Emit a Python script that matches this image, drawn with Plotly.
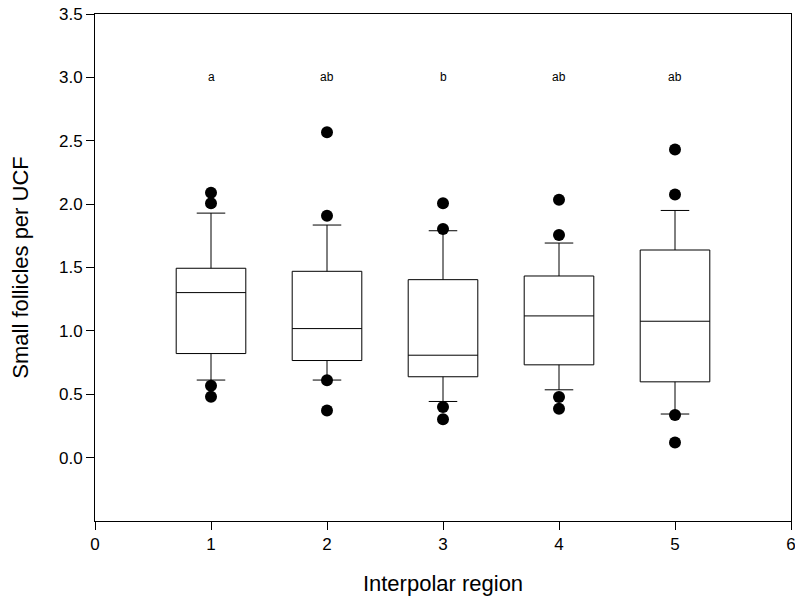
import plotly.graph_objects as go

regions = [1, 2, 3, 4, 5]
q1 = [0.821, 0.766, 0.638, 0.732, 0.598]
median = [1.302, 1.018, 0.808, 1.118, 1.076]
q3 = [1.494, 1.470, 1.404, 1.433, 1.638]
lower_whisker = [0.612, 0.612, 0.443, 0.535, 0.344]
upper_whisker = [1.929, 1.835, 1.790, 1.693, 1.950]

outlier_x = [1, 1, 1, 1, 2, 2, 2, 2, 3, 3, 3, 3, 4, 4, 4, 4, 5, 5, 5, 5]
outlier_y = [2.089, 2.006, 0.567, 0.480,
             2.567, 1.908, 0.610, 0.372,
             2.006, 1.803, 0.399, 0.302,
             2.034, 1.756, 0.478, 0.386,
             2.431, 2.076, 0.336, 0.120]

letters = ["a", "ab", "b", "ab", "ab"]
letter_y = 3.0

x_ticks = [0, 1, 2, 3, 4, 5, 6]
y_ticks = [0.0, 0.5, 1.0, 1.5, 2.0, 2.5, 3.0, 3.5]

FONT = "Liberation Sans, Arial, sans-serif"

fig = go.Figure()
fig.add_trace(go.Box(
    x=regions, q1=q1, median=median, q3=q3,
    lowerfence=lower_whisker, upperfence=upper_whisker,
    width=0.6, whiskerwidth=0.41,
    line=dict(color="black", width=1),
    fillcolor="white", boxpoints=False, hoverinfo="skip",
))
fig.add_trace(go.Scatter(
    x=outlier_x, y=outlier_y, mode="markers",
    marker=dict(color="black", size=12, symbol="circle"),
    hoverinfo="skip",
))
for xi, t in zip(regions, letters):
    fig.add_annotation(x=xi, y=letter_y, text=t, showarrow=False,
                       font=dict(family=FONT, size=12, color="black"))

axis_common = dict(showline=True, linecolor="black", linewidth=1, mirror=True,
                   ticks="outside", ticklen=8, tickcolor="black", tickwidth=1,
                   showgrid=False, zeroline=False,
                   ticklabeloverflow="allow",
                   tickfont=dict(family=FONT, size=17, color="black"))
fig.update_xaxes(range=[0, 6], tickvals=x_ticks, automargin="bottom",
                 title=dict(text="Interpolar region", font=dict(family=FONT, size=22, color="black"), standoff=22),
                 **axis_common)
fig.update_yaxes(range=[-0.5, 3.5], tickvals=y_ticks, tickformat=".1f", automargin="left",
                 title=dict(text="Small follicles per UCF", font=dict(family=FONT, size=22, color="black"), standoff=24),
                 **axis_common)
fig.update_layout(
    width=795, height=607,
    margin=dict(l=95, r=4, t=14, b=86),
    plot_bgcolor="white", paper_bgcolor="white",
    showlegend=False,
    font=dict(family=FONT, color="black"),
)
fig.write_html("out.html", config={"displayModeBar": False},
               post_script="document.body.style.margin='0';document.body.style.overflow='hidden';")
